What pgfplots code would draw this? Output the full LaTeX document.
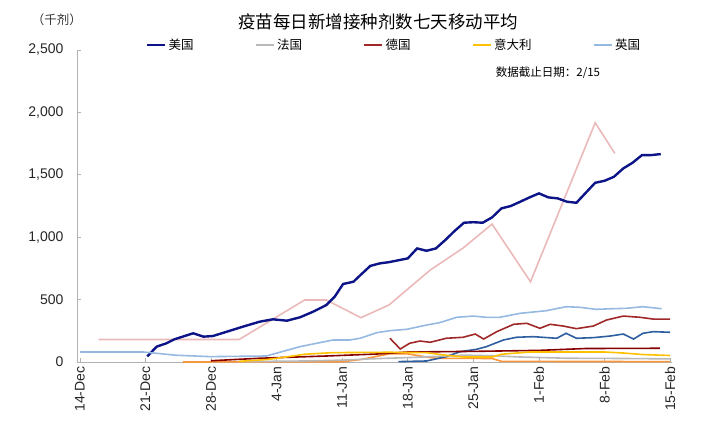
\documentclass[border=0pt]{standalone}
\usepackage{pgfplots}
\pgfplotsset{compat=1.18}
\usepackage{fontspec}
\setmainfont{Liberation Sans}
\newfontfamily\cjk{Noto Sans CJK SC}
\definecolor{cUS}{RGB}{12,20,135}
\definecolor{cFR}{RGB}{185,185,185}
\definecolor{cDE}{RGB}{160,40,40}
\definecolor{cDEb}{RGB}{135,0,0}
\definecolor{cIT}{RGB}{255,192,0}
\definecolor{cUK}{RGB}{150,185,225}
\definecolor{cPK}{RGB}{235,185,185}
\definecolor{cSB}{RGB}{45,95,160}
\definecolor{cOR}{RGB}{250,150,60}
\begin{document}
\begin{tikzpicture}
\path[use as bounding box] (-77pt,-73pt) rectangle (625pt,362pt);
\begin{axis}[
  at={(0pt,0pt)}, anchor=south west,
  scale only axis, width=595pt, height=312pt,
  xmin=-0.3, xmax=63.2, ymin=0, ymax=2500,
  axis x line*=bottom, axis y line*=left,
  axis line style={draw=black!30, line width=0.8pt},
  ytick={0,500,...,2500},
  xtick={0,7,...,63},
  xticklabels={14-Dec,21-Dec,28-Dec,4-Jan,11-Jan,18-Jan,25-Jan,1-Feb,8-Feb,15-Feb},
  tick style={black!30, line width=0.6pt}, major tick length=4pt, tick align=inside,
  ticklabel style={font=\fontsize{14}{14}\selectfont, text=black!85},
  yticklabel style={xshift=-10pt},
  /pgf/number format/assume math mode=true,
  /pgf/number format/1000 sep={,},
  scaled y ticks=false,
  xticklabel style={rotate=90, anchor=east, xshift=-1pt},
  clip=false,
  legend style={at={(0.533,1.016)}, anchor=center, draw=none, fill=none,
    legend columns=5, font=\cjk\fontsize{12.5}{12.5}\selectfont,
    /tikz/every even column/.append style={column sep=59pt}},
  legend image code/.code={\draw[#1, line width=2.5pt] (0pt,0pt) -- (18pt,0pt);},
]
% unlabeled series
\addplot[cPK, line width=1.6pt, forget plot] coordinates {
(2,180) (17,180) (24,497) (26.3,497) (30,355) (33,457) (37.4,737) (40.9,913) (44,1105) (48.1,643) (55,1917) (57.1,1672)};
\addplot[cOR, line width=1.6pt, forget plot] coordinates {
(11,0) (28,2) (30,20) (33,65) (35,65) (37,40) (38,30) (44,28) (45,5) (63,3)};
\addplot[cSB, line width=1.6pt, forget plot] coordinates {
(34,3) (37,8) (39.1,43) (40.6,83) (42.3,101) (43.4,123) (45.2,176) (46.6,198) (48.4,203) (50.9,190) (51.9,230) (53,190) (54.8,195) (56.6,208) (58,224) (59.1,184) (60.1,230) (61.2,243) (63,238)};
\addplot[cDEb, line width=1.6pt, forget plot] coordinates {
(14,10) (19.2,30) (26.3,48) (31.7,64) (35,80) (42,85) (49,93) (54,108) (61.9,110)};
% legend series
\addplot[cUS, line width=2.4pt] coordinates {
(7.2,45) (8.2,123) (9.25,150) (10.1,182) (12.1,230) (13.2,203) (14.2,208) (15.7,243) (17.4,283) (19.2,323) (20.6,342) (22.1,331) (23.5,358) (24.9,403) (26.3,456) (27.2,523) (28.1,625) (29.2,643) (30,700) (31,770) (32,790) (33,800) (34,815) (35,830) (36,910) (37,891) (38,910) (39,977) (40,1050) (41,1116) (42,1120) (43,1116) (44,1159) (45,1231) (46,1250) (47,1284) (48,1319) (49,1351) (50,1319) (51,1311) (52,1284) (53,1276) (54,1356) (55,1436) (56,1452) (57,1484) (58,1551) (59,1597) (60,1658) (61,1658) (62,1666)};
\addlegendentry{美国}
\addplot[cFR, line width=1.6pt] coordinates {
(17,3) (24,8) (28,15) (31,25) (36,38) (41,55) (44,50) (47,40) (52,30) (58,28) (63,25)};
\addlegendentry{法国}
\addplot[cDE, line width=1.6pt] coordinates {
(33.1,190) (34.2,104) (35.2,150) (36.3,168) (37.4,158) (39.1,190) (40.9,198) (42.2,224) (43.1,184) (44.5,243) (46.3,302) (47.7,310) (49.1,270) (50.2,302) (51.6,288) (53,267) (54.8,288) (56.2,336) (58,368) (59.8,358) (61.2,344) (63,344)};
\addlegendentry{德国}
\addplot[cIT, line width=1.6pt] coordinates {
(17,5) (20,20) (22,40) (24,62) (27,75) (33,78) (37,75) (39,55) (41,40) (44,40) (45,62) (48,80) (56,80) (58,72) (60,60) (63,52)};
\addlegendentry{意大利}
\addplot[cUK, line width=1.6pt] coordinates {
(0,80) (6.8,80) (10.3,54) (13.9,43) (19.9,48) (23.5,123) (27,176) (28.8,176) (29.9,190) (31.7,235) (33.1,251) (34.9,262) (37,296) (38.4,315) (40.2,358) (42,368) (43.4,358) (44.8,358) (47,390) (49.8,411) (51.9,443) (53.4,438) (55.1,422) (56.9,427) (58.3,430) (60.1,443) (62.1,427)};
\addlegendentry{英国}
\end{axis}
\node[font=\cjk\fontsize{17.5}{17.5}\selectfont] at (301pt,340pt) {疫苗每日新增接种剂数七天移动平均};
\node[font=\cjk\fontsize{12.5}{12.5}\selectfont, text=black!80] at (-20pt,342pt) {（千剂）};
\node[font=\cjk\fontsize{11.5}{11.5}\selectfont] at (471pt,289pt) {数据截止日期：2/15};
\end{tikzpicture}
\end{document}
